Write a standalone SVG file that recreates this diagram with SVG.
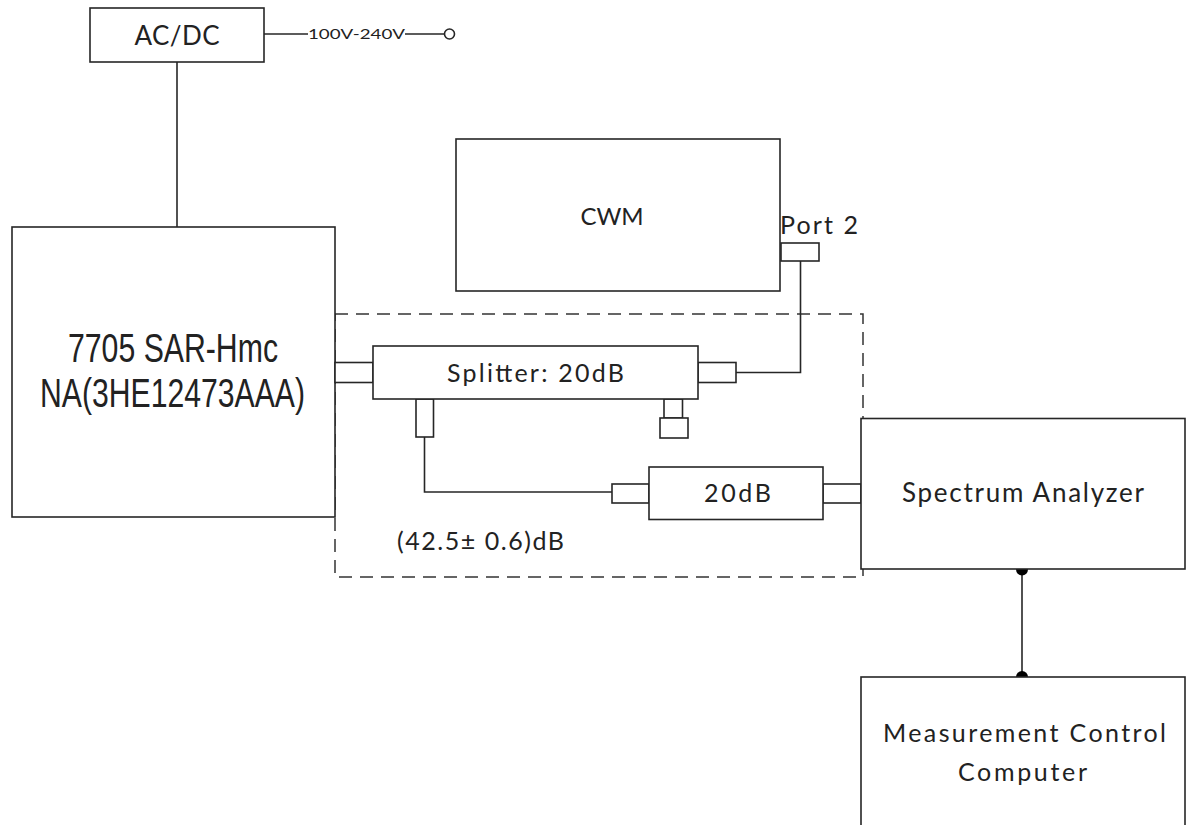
<svg xmlns="http://www.w3.org/2000/svg" width="1188" height="825" viewBox="0 0 1188 825">
<style>
.box{fill:#fff;stroke:#262626;stroke-width:1.6}
.ln{fill:none;stroke:#262626;stroke-width:1.6}
.dash{fill:none;stroke:#333;stroke-width:1.5;stroke-dasharray:13 8}
.t{font-family:Lato,"Open Sans","Noto Sans",sans-serif;fill:#222}
.a{font-family:"Liberation Sans",Arial,sans-serif;fill:#222}
.dot{fill:#000}
</style>
<rect width="1188" height="825" fill="#fff"/>
<g id="group-boundary">
<rect class="dash" x="335" y="314" width="528" height="263"/>
</g>
<g id="connectors">
<line class="ln" x1="177" y1="62" x2="177" y2="227"/>
<line class="ln" x1="264" y1="34" x2="308" y2="34"/>
<line class="ln" x1="405" y1="34" x2="444" y2="34"/>
<polyline class="ln" points="736,372.5 800.5,372.5 800.5,261"/>
<polyline class="ln" points="424.5,437 424.5,492 612,492"/>
<line class="ln" x1="1022" y1="569" x2="1022" y2="677"/>
<circle class="dot" cx="1022" cy="569.5" r="6"/>
<circle class="dot" cx="1022" cy="677" r="6"/>
</g>
<g id="acdc">
<rect class="box" x="90" y="8" width="174" height="54"/>
<text class="t" x="177" y="45" font-size="26" text-anchor="middle" textLength="85">AC/DC</text>
</g>
<g id="mains">
<text class="t" x="308" y="38.5" font-size="13" textLength="97" lengthAdjust="spacingAndGlyphs">100V-240V</text>
<circle cx="449.5" cy="34" r="5" fill="#fff" stroke="#262626" stroke-width="1.6"/>
</g>
<g id="sar">
<rect class="box" x="12" y="227" width="323" height="290"/>
<text class="a" x="68" y="362" font-size="40" textLength="210" lengthAdjust="spacingAndGlyphs">7705 SAR-Hmc</text>
<text class="a" x="40" y="407" font-size="40" textLength="265" lengthAdjust="spacingAndGlyphs">NA(3HE12473AAA)</text>
</g>
<g id="cwm">
<rect class="box" x="456" y="139" width="324" height="152"/>
<text class="t" x="612" y="225" font-size="24" text-anchor="middle">CWM</text>
<text class="t" x="780" y="234" font-size="25" textLength="78">Port 2</text>
<rect class="box" x="781" y="243" width="38" height="18"/>
</g>
<g id="splitter">
<rect class="box" x="335" y="362.5" width="38" height="20"/>
<rect class="box" x="698" y="362.5" width="38" height="20"/>
<rect class="box" x="416" y="399" width="17.5" height="38"/>
<rect class="box" x="664" y="399" width="18.5" height="19"/>
<rect class="box" x="660" y="418" width="28" height="20"/>
<rect class="box" x="373" y="346" width="325" height="53"/>
<text class="t" x="447" y="382" font-size="25" textLength="177">Splitter: 20dB</text>
</g>
<g id="attenuator">
<rect class="box" x="612" y="484" width="37" height="19"/>
<rect class="box" x="823" y="484" width="38" height="19"/>
<rect class="box" x="649" y="467" width="174" height="52.5"/>
<text class="t" x="704" y="502" font-size="25" textLength="67">20dB</text>
</g>
<g id="loss-label">
<text class="t" x="397" y="550" font-size="25" textLength="167">(42.5± 0.6)dB</text>
</g>
<g id="spectrum-analyzer">
<rect class="box" x="861" y="418.5" width="324" height="150.5"/>
<text class="t" x="902" y="502" font-size="26" textLength="242">Spectrum Analyzer</text>
</g>
<g id="computer">
<rect class="box" x="861" y="677" width="324" height="160"/>
<text class="t" x="883" y="742" font-size="25" textLength="283">Measurement Control</text>
<text class="t" x="958" y="781" font-size="25" textLength="129">Computer</text>
</g>
</svg>
